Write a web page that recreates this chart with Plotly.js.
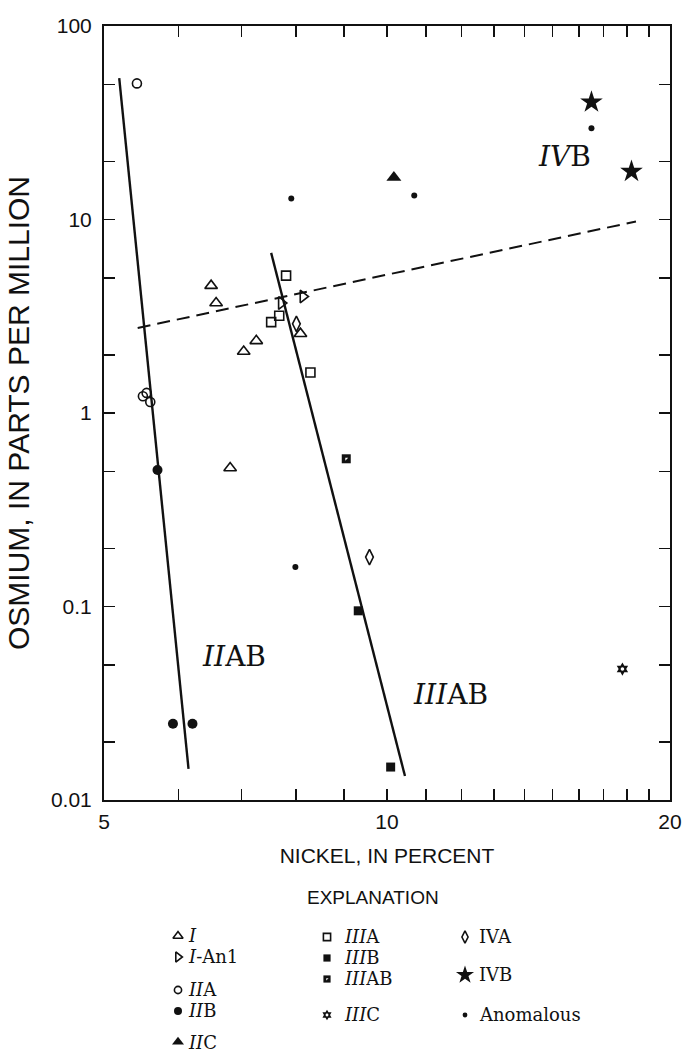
<!DOCTYPE html>
<html><head><meta charset="utf-8">
<script src="https://cdn.plot.ly/plotly-3.0.1.min.js"></script>
<style>html,body{margin:0;padding:0;background:#fff}#chart{width:683px;height:1054px}</style>
</head><body><div id="chart"></div>
<script>
// ---------------- data (nickel %, osmium ppm) ----------------
const nickel_I = [6.50, 6.58, 7.04, 7.26, 6.81, 8.09];
const osmium_I = [4.55, 3.70, 2.08, 2.36, 0.52, 2.57];
const nickel_IAn1 = [7.72, 8.14];
const osmium_IAn1 = [3.70, 4.00];
const nickel_IIA = [5.42, 5.50, 5.55, 5.60];
const osmium_IIA = [50.5, 1.22, 1.27, 1.14];
const nickel_IIB = [5.70, 5.92, 6.21];
const osmium_IIB = [0.507, 0.0248, 0.0248];
const nickel_IIC = [10.17];
const osmium_IIC = [16.5];
const nickel_IIIA = [7.81, 7.68, 7.53, 8.29];
const osmium_IIIA = [5.13, 3.18, 2.95, 1.62];
const nickel_IIIB = [9.32, 10.09];
const osmium_IIIB = [0.095, 0.0148];
const nickel_IIIAB = [9.05];
const osmium_IIIAB = [0.58];
const nickel_IIIC = [17.8];
const osmium_IIIC = [0.0475];
const nickel_IVA = [8.01, 9.58];
const osmium_IVA = [2.89, 0.18];
const nickel_IVB = [16.5, 18.2];
const osmium_IVB = [40.4, 17.7];
const nickel_anom = [16.5, 7.91, 10.69, 7.99];
const osmium_anom = [29.6, 12.85, 13.3, 0.16];

// trend lines
const nickel_lineIIAB = [5.19, 6.15];
const osmium_lineIIAB = [53.8, 0.0145];
const nickel_lineIIIAB = [7.53, 10.45];
const osmium_lineIIIAB = [6.72, 0.0133];
const nickel_lineDashed = [5.43, 18.4];
const osmium_lineDashed = [2.75, 9.77];

// ticks
const xTickVals = [5,6,7,8,9,10,11,12,13,14,15,16,17,18,19,20];
const xTickText = ['5','','','','','10','','','','','','','','','','20'];
const yTickVals = [0.01,0.02,0.05,0.1,0.2,0.5,1,2,5,10,20,50,100];
const yTickText = ['0.01','','','0.1','','','1','','','10','','','100'];

// ---------------- styles ----------------
const INK = '#111';
const SERIF = 'DejaVu Serif, serif';
const SANS = 'Liberation Sans, Arial, sans-serif';

const styles = {
  I:     {symbol:'triangle-up-open', size:11, lw:1.6},
  IAn1:  {symbol:'triangle-right-open', size:11, lw:1.6},
  IIA:   {symbol:'circle-open', size:9, lw:1.6},
  IIB:   {symbol:'circle', size:10, lw:0},
  IIC:   {symbol:'triangle-up', size:13, lw:0},
  IIIA:  {symbol:'square-open', size:9, lw:1.6},
  IIIB:  {symbol:'square', size:9, lw:0},
  IIIAB: {symbol:'square', size:9, lw:0},
  IIIC:  {symbol:'hexagram', size:10, lw:0},
  IVA:   {symbol:'diamond-tall-open', size:11, lw:1.6},
  IVB:   {symbol:'star', size:17, lw:0},
  anom:  {symbol:'circle', size:6, lw:0}
};
// white inner detail drawn on top of some symbols
const insets = {
  IIIAB: {symbol:'triangle-nw', size:3.2},
  IIIC:  {symbol:'circle', size:3.6}
};

const series = [
  ['I', nickel_I, osmium_I],
  ['IAn1', nickel_IAn1, osmium_IAn1],
  ['IIA', nickel_IIA, osmium_IIA],
  ['IIB', nickel_IIB, osmium_IIB],
  ['IIC', nickel_IIC, osmium_IIC],
  ['IIIA', nickel_IIIA, osmium_IIIA],
  ['IIIB', nickel_IIIB, osmium_IIIB],
  ['IIIAB', nickel_IIIAB, osmium_IIIAB],
  ['IIIC', nickel_IIIC, osmium_IIIC],
  ['IVA', nickel_IVA, osmium_IVA],
  ['IVB', nickel_IVB, osmium_IVB],
  ['anom', nickel_anom, osmium_anom]
];

function mk(key, scale) {
  const s = styles[key];
  return {symbol:s.symbol, size:s.size*scale, color:INK, line:{color:INK, width:s.lw}};
}
function inset(key, scale) {
  const s = insets[key];
  return {symbol:s.symbol, size:s.size*scale, color:'#fff', line:{width:0}};
}

const traces = [];
// lines
traces.push({x:nickel_lineIIAB, y:osmium_lineIIAB, mode:'lines', line:{color:INK, width:2.4}, xaxis:'x', yaxis:'y', hoverinfo:'skip'});
traces.push({x:nickel_lineIIIAB, y:osmium_lineIIIAB, mode:'lines', line:{color:INK, width:2.4}, xaxis:'x', yaxis:'y', hoverinfo:'skip'});
traces.push({x:nickel_lineDashed, y:osmium_lineDashed, mode:'lines', line:{color:INK, width:2, dash:'13px,7px'}, xaxis:'x', yaxis:'y', hoverinfo:'skip'});
// points
series.forEach(([key, xs, ys]) => {
  traces.push({x:xs, y:ys, mode:'markers', marker:mk(key,1), xaxis:'x', yaxis:'y', name:key, cliponaxis:false});
  if (insets[key]) {
    traces.push({x:xs, y:ys, mode:'markers', marker:inset(key,1), xaxis:'x', yaxis:'y', hoverinfo:'skip', cliponaxis:false});
  }
});

// ---------------- explanation (legend), positions in page pixels ----------------
const legendEntries = [
  {key:'I',     label:'<i>I</i>',       gx:178, tx:187, y:936},
  {key:'IAn1',  label:'<i>I</i>-An1',   gx:178, tx:187, y:957},
  {key:'IIA',   label:'<i>II</i>A',     gx:178, tx:187, y:990},
  {key:'IIB',   label:'<i>II</i>B',     gx:178, tx:187, y:1011},
  {key:'IIC',   label:'<i>II</i>C',     gx:178, tx:187, y:1042},
  {key:'IIIA',  label:'<i>III</i>A',    gx:327, tx:343, y:937},
  {key:'IIIB',  label:'<i>III</i>B',    gx:327, tx:343, y:958},
  {key:'IIIAB', label:'<i>III</i>AB',   gx:327, tx:343, y:979},
  {key:'IIIC',  label:'<i>III</i>C',    gx:327, tx:343, y:1015},
  {key:'IVA',   label:'IVA',            gx:465, tx:478, y:937},
  {key:'IVB',   label:'IVB',            gx:465, tx:478, y:975},
  {key:'anom',  label:'Anomalous',      gx:465, tx:478, y:1015}
];

const annotations = [];
legendEntries.forEach(e => {
  traces.push({x:[e.gx], y:[e.y], mode:'markers', marker:mk(e.key,0.8), xaxis:'x2', yaxis:'y2', hoverinfo:'skip', cliponaxis:false});
  if (insets[e.key]) {
    traces.push({x:[e.gx], y:[e.y], mode:'markers', marker:inset(e.key,0.8), xaxis:'x2', yaxis:'y2', hoverinfo:'skip', cliponaxis:false});
  }
  annotations.push({xref:'x2', yref:'y2', x:e.tx, y:e.y, text:e.label, showarrow:false, xanchor:'left', yanchor:'middle', borderpad:0, font:{family:SERIF, size:18, color:INK}});
});
annotations.push({xref:'x2', yref:'y2', x:373, y:898, text:'EXPLANATION', showarrow:false, xanchor:'center', yanchor:'middle', font:{family:SANS, size:19, color:INK}});

// group labels inside the plot
const groupLabels = [
  {text:'<i>II</i>AB', x:6.87, y:0.0551},
  {text:'<i>III</i>AB', x:11.67, y:0.0352},
  {text:'<i>IV</i>B', x:15.44, y:21.1}
];
groupLabels.forEach(g => annotations.push({xref:'x', yref:'y', x:Math.log10(g.x), y:Math.log10(g.y), text:g.text, showarrow:false, xanchor:'center', yanchor:'middle', font:{family:SERIF, size:28, color:INK}}));

const H = 1054, T = 26;
const paperH = H - T;
const mainBottom = (H - 800) / paperH;
const legTop = (H - 880) / paperH;

const axCommon = {ticks:'inside', ticklen:11, tickwidth:1.5, tickcolor:INK, showline:true, linewidth:2, linecolor:INK, mirror:'allticks', showgrid:false, zeroline:false, tickfont:{family:SANS, size:21, color:INK}};

const layout = {
  width:683, height:1054,
  margin:{l:104, r:13, t:T, b:0},
  paper_bgcolor:'#fff', plot_bgcolor:'#fff',
  showlegend:false,
  font:{family:SANS, color:INK},
  xaxis:Object.assign({}, axCommon, {type:'log', range:[Math.log10(5), Math.log10(20)], domain:[0,1], anchor:'y', tickmode:'array', tickvals:xTickVals, ticktext:xTickText, ticklabelstandoff:2, title:{text:'NICKEL, IN PERCENT', font:{family:SANS, size:21, color:INK}, standoff:16}}),
  yaxis:Object.assign({}, axCommon, {type:'log', range:[-2, 2], domain:[mainBottom, 1], anchor:'x', tickmode:'array', tickvals:yTickVals, ticktext:yTickText, ticklabelstandoff:6, title:{text:'OSMIUM, IN PARTS PER MILLION', font:{family:SANS, size:30, color:INK}, standoff:12}}),
  xaxis2:{domain:[0,1], range:[104,670], anchor:'y2', visible:false, fixedrange:true},
  yaxis2:{domain:[0, legTop], range:[H, 880], anchor:'x2', visible:false, fixedrange:true},
  annotations:annotations
};

Plotly.newPlot('chart', traces, layout, {displayModeBar:false, staticPlot:true});
</script></body></html>
